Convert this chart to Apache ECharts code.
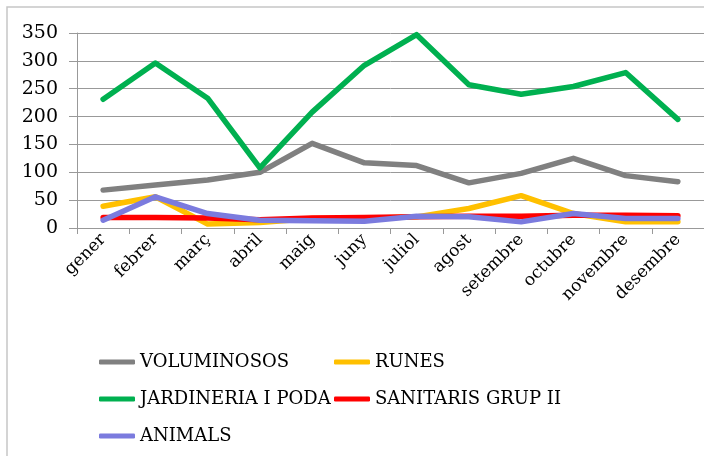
<!DOCTYPE html>
<html>
<head>
<meta charset="utf-8">
<script src="https://cdn.jsdelivr.net/npm/echarts@6/dist/echarts.min.js"></script>
<style>
    html, body { margin: 0; padding: 0; background: #fff; }
    #chart { width: 704px; height: 456px; }
</style>
</head>
<body>
<div id="chart"></div>
<script>
    // dades llegides del gràfic
    const mesos = ['gener', 'febrer', 'març', 'abril', 'maig', 'juny', 'juliol', 'agost', 'setembre', 'octubre', 'novembre', 'desembre']
    const voluminosos = [68, 77, 86, 100, 152, 117, 112, 81, 98, 125, 94, 83]
    const runes = [39, 56, 7, 10, 17, 17, 20, 35, 58, 26, 11, 11]
    const jardineria = [231, 296, 233, 108, 208, 292, 347, 257, 240, 254, 279, 195]
    const sanitaris = [19, 19, 18, 15, 18, 19, 20, 21, 21, 23, 23, 22]
    const animals = [14, 56, 26, 14, 13, 12, 21, 20, 11, 26, 17, 17]
    const yTicks = { min: 0, max: 350, interval: 50 }

    const font = 'DejaVu Serif'

    const line = (name, data, color) => ({
        name: name,
        type: 'line',
        data: data,
        symbol: 'none',
        lineStyle: { color: color, width: 5.5, cap: 'round', join: 'round' },
        itemStyle: { color: color }
    })

    const legendText = { fontFamily: font, fontSize: 18, color: '#000' }

    const myChart = echarts.init(document.getElementById('chart'))
    myChart.setOption({
        animation: false,
        graphic: [{
            type: 'rect',
            shape: { x: 7, y: 7, width: 720, height: 480 },
            style: { fill: 'none', stroke: '#c6c6c6', lineWidth: 1.5 },
            silent: true
        }],
        grid: { left: 77, right: 0, top: 33, bottom: 228 },
        legend: [
            {
                orient: 'vertical', left: 94, top: 348, itemGap: 19,
                itemWidth: 36, itemHeight: 5, icon: 'roundRect',
                textStyle: legendText,
                data: ['VOLUMINOSOS', 'JARDINERIA I PODA', 'ANIMALS']
            },
            {
                orient: 'vertical', left: 329, top: 348, itemGap: 19,
                itemWidth: 36, itemHeight: 5, icon: 'roundRect',
                textStyle: legendText,
                data: ['RUNES', 'SANITARIS GRUP II']
            }
        ],
        xAxis: {
            type: 'category',
            data: mesos,
            axisLine: { lineStyle: { color: '#999', width: 1 } },
            axisTick: { show: true, interval: 0, length: 6, lineStyle: { color: '#999' } },
            axisLabel: {
                interval: 0, rotate: 45, margin: 9,
                fontFamily: font, fontSize: 17, color: '#000'
            }
        },
        yAxis: {
            type: 'value',
            min: yTicks.min, max: yTicks.max, interval: yTicks.interval,
            axisLine: { show: true, lineStyle: { color: '#999', width: 1 } },
            axisTick: { show: true, length: 8, lineStyle: { color: '#999' } },
            splitLine: { lineStyle: { color: '#999', width: 1 } },
            axisLabel: { margin: 19, fontFamily: font, fontSize: 19, color: '#000' }
        },
        series: [
            line('VOLUMINOSOS', voluminosos, '#808080'),
            line('RUNES', runes, '#ffc000'),
            line('JARDINERIA I PODA', jardineria, '#00b050'),
            line('SANITARIS GRUP II', sanitaris, '#ff0000'),
            line('ANIMALS', animals, '#7b7bde')
        ]
    })
</script>
</body>
</html>
